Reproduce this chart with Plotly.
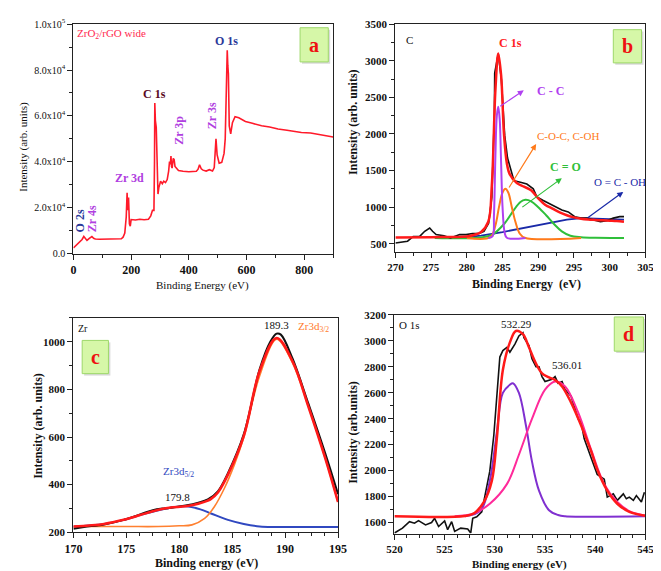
import plotly.graph_objects as go

W, H = 661, 571
SERIF = "Liberation Serif"

# ---------------- Panel a: survey spectrum ----------------
a_be = [0, 10, 20, 30, 36, 42, 47, 55, 64, 70, 76, 90, 110, 130, 150, 166, 172, 178, 183, 186, 188, 191, 194,
        197, 200, 215, 230, 245, 260, 268, 274, 279, 281, 282, 284, 287, 290, 293, 296, 302, 308, 313, 319, 325,
        330, 333, 336, 338, 340, 342, 346, 349, 352, 355, 364, 380, 400, 426, 432, 437, 443, 449, 460, 471, 482,
        488, 494, 498, 505, 514, 522, 526, 528, 531, 533, 535, 537, 540, 545, 551, 560, 573, 596, 620, 652, 680,
        709, 740, 765, 790, 822, 850, 878, 900]
a_int = [2500, 3800, 5000, 6200, 7500, 6600, 5800, 6700, 7500, 6700, 6400, 6300, 6400, 6300, 6400, 6500, 7200, 9000,
         16000, 26500, 19000, 24500, 13000, 12000, 14900, 14700, 15000, 14800, 15000, 16500, 18900, 18900, 40000,
         65600, 58000, 55000, 33000, 26000, 28800, 31600, 30500, 31600, 31000, 32300, 36000, 40100, 39000, 42500,
         38000, 37300, 41500, 41000, 38000, 37600, 36200, 35900, 35700, 35900, 36800, 38700, 37000, 36400, 36000,
         36600, 36000, 37500, 50000, 43000, 39400, 39800, 43700, 50000, 61400, 75000, 88600, 82000, 78400, 55700,
         52200, 57100, 59700, 59200, 57600, 56800, 55700, 55200, 54300, 53800, 53300, 52800, 52600, 51900, 51500,
         50800]
a_xticks = [0, 200, 400, 600, 800]
a_xtext = ["<b>0</b>", "<b>200</b>", "<b>400</b>", "<b>600</b>", "<b>800</b>"]
a_yticks = [0, 20000, 40000, 60000, 80000, 100000]
a_ytext = ["0.0", "2.0x10<sup>4</sup>", "4.0x10<sup>4</sup>", "6.0x10<sup>4</sup>", "8.0x10<sup>4</sup>",
           "1.0x10<sup>5</sup>"]

# ---------------- Panel b: C 1s ----------------
b_raw_x = [270, 271, 271.7, 272.5, 273.4, 274.1, 274.8, 275.2, 275.7, 276.8, 277.7, 279, 279.9, 280.8, 281.7,
           282.4, 283.05, 283.5, 283.86, 283.9, 284.4, 284.84, 285.3, 285.7, 286.2, 286.6, 287.5, 288.4, 289.3,
           289.8, 290.7, 291.5, 292.4, 293.3, 294.2, 295.1, 296, 296.9, 297.8, 298.7, 299.6, 300.5, 301.4, 302]
b_raw_y = [510, 520, 535, 600, 600, 670, 715, 670, 625, 610, 580, 625, 625, 640, 640, 670, 780, 1135, 2290, 2830,
           3095, 2740, 1980, 1670, 1490, 1360, 1340, 1315, 1250, 1140, 1090, 1050, 1000, 960, 935, 870, 850, 850,
           825, 800, 815, 850, 870, 870]
b_fit_x = [270, 275, 280, 281, 282, 283, 283.5, 284, 284.4, 284.8, 285.2, 285.6, 286, 287, 288, 289, 290, 291,
           292, 293, 294, 295, 296, 297, 298, 299, 300, 301, 302]
b_fit_y = [585, 590, 600, 620, 660, 800, 1300, 2600, 3100, 2800, 2000, 1600, 1450, 1330, 1280, 1230, 1120, 1030,
           980, 930, 890, 860, 840, 830, 825, 820, 815, 810, 800]
b_cc_x = [283, 283.6, 283.8, 284.0, 284.2, 284.4, 284.6, 284.8, 285.0, 285.3, 285.6, 288.2]
b_cc_y = [580, 600, 900, 1700, 2250, 2370, 2200, 1600, 1000, 650, 582, 580]
b_coc_x = [280, 283.3, 284.0, 284.5, 285.0, 285.4, 285.8, 286.3, 286.8, 287.4, 288.1, 296]
b_coc_y = [580, 590, 750, 1000, 1200, 1250, 1200, 1000, 800, 640, 582, 580]
b_co_x = [275.5, 282, 283.5, 285.3, 286.5, 287.5, 288.2, 289.0, 290.0, 291.1, 292.2, 293.3, 294.5, 296, 298, 302]
b_co_y = [580, 585, 620, 780, 950, 1070, 1100, 1080, 1000, 890, 770, 670, 610, 590, 582, 580]
b_coh_x = [279, 282, 285, 288, 291, 294, 296, 298, 302]
b_coh_y = [580, 610, 660, 720, 780, 830, 850, 845, 830]
b_xticks = [270, 275, 280, 285, 290, 295, 300, 305]
b_yticks = [500, 1000, 1500, 2000, 2500, 3000, 3500]

# ---------------- Panel c: Zr 3d ----------------
c_raw_x = [170, 171, 172.9, 174.75, 176.3, 177.5, 178.5, 179.05, 180.6, 181.8, 182.7, 183.65, 184.6, 186.1,
           187.6, 188.6, 189.2, 189.6, 190.7, 192.2, 193.8, 195]
c_raw_y = [215, 222, 233, 252, 275, 293, 300, 302, 312, 324, 338, 372, 448, 612, 885, 1000, 1034, 1030, 930, 740,
           530, 360]
c_fit_x = [170, 172.9, 174.75, 176.3, 177.5, 179.05, 180.6, 181.8, 182.7, 183.0, 183.65, 184.6, 186.1, 187.6,
           189.2, 190.7, 192.2, 193.8, 195]
c_fit_y = [224, 235, 252, 272, 288, 303, 309, 320, 333, 340, 367, 442, 605, 878, 1016, 918, 728, 510, 327]
c_d52_x = [170, 172.9, 174.75, 176.3, 177.5, 179.05, 180.6, 182.0, 183.0, 184.6, 186.1, 187.6, 189.2, 195]
c_d52_y = [224, 235, 252, 272, 286, 302, 309, 296, 279, 252, 235, 224, 222, 222]
c_d32_x = [170, 175, 178, 180, 181.2, 182.4, 183.3, 184.3, 185.2, 186.1, 187.6, 189.2, 190.7, 192.2, 193.8, 195]
c_d32_y = [224, 224, 224, 227, 231, 258, 306, 388, 483, 599, 857, 1011, 911, 728, 510, 327]
c_xticks = [170, 175, 180, 185, 190, 195]
c_yticks = [200, 400, 600, 800, 1000]

# ---------------- Panel d: O 1s ----------------
d_raw_x = [520, 520.8, 521.5, 522, 522.4, 523.1, 523.7, 524, 524.4, 525, 525.3, 525.7, 526, 526.6, 527.3, 527.6,
           527.8, 528.2, 528.7, 529, 529.5, 529.9, 530.2, 530.5, 530.8, 531.2, 531.5, 532, 532.4, 532.8, 532.9,
           533.4, 533.7, 534.1, 534.4, 534.7, 535, 535.4, 535.7, 536, 536.3, 536.7, 537, 537.6, 538.3, 538.6,
           538.9, 539.6, 540.2, 540.9, 541.2, 541.8, 542.2, 542.5, 542.8, 543.1, 543.4, 543.8, 544.1, 544.6, 544.9]
d_raw_y = [1520, 1557, 1607, 1595, 1615, 1582, 1600, 1633, 1570, 1612, 1545, 1607, 1532, 1557, 1550, 1520, 1633,
           1645, 1683, 1796, 1996, 2272, 2573, 2874, 2924, 2949, 2912, 2974, 3037, 3062, 3024, 2962, 2862, 2799,
           2799, 2724, 2686, 2698, 2703, 2724, 2673, 2686, 2623, 2573, 2398, 2372, 2247, 2097, 1971, 1934, 1796,
           1821, 1771, 1796, 1821, 1783, 1796, 1771, 1808, 1758, 1833]
d_fit_x = [520, 527, 527.9, 528.9, 529.7, 530.2, 530.8, 531.5, 532.1, 532.8, 533.4, 534.1, 534.7, 535.4, 536,
           536.7, 537.6, 538.6, 539.6, 540.2, 541.2, 542.2, 543.4, 545]
d_fit_y = [1648, 1650, 1670, 1758, 1921, 2247, 2774, 2987, 3075, 3050, 2949, 2824, 2749, 2718, 2698, 2648, 2523,
           2347, 2147, 2009, 1846, 1745, 1683, 1653]
d_p1_x = [527, 528.6, 529.5, 530.2, 530.8, 531.5, 531.8, 532.4, 533.1, 533.7, 534.4, 535.4, 536.3, 537, 545]
d_p1_y = [1648, 1695, 1921, 2297, 2598, 2661, 2673, 2598, 2347, 2071, 1846, 1695, 1658, 1649, 1648]
d_p2_x = [526, 527.9, 529.5, 531.2, 532.4, 533.7, 535, 536, 537, 538.3, 539.6, 540.9, 542.2, 543.4, 545]
d_p2_y = [1648, 1670, 1745, 1896, 2122, 2398, 2623, 2686, 2648, 2448, 2159, 1896, 1758, 1688, 1653]
d_xticks = [520, 525, 530, 535, 540, 545]
d_yticks = [1600, 1800, 2000, 2200, 2400, 2600, 2800, 3000, 3200]


def bold(vals):
    return ["<b>%s</b>" % v for v in vals]


def P(px, py):
    return px / W, 1 - py / H


fig = go.Figure()

# traces
fig.add_trace(go.Scatter(x=a_be, y=a_int, mode="lines", line=dict(color="#ff1a2a", width=1.6),
                         xaxis="x", yaxis="y"))

fig.add_trace(go.Scatter(x=b_coh_x, y=b_coh_y, mode="lines", line=dict(color="#1a2aa8", width=1.8), xaxis="x2", yaxis="y2"))
fig.add_trace(go.Scatter(x=b_co_x, y=b_co_y, mode="lines", line=dict(color="#2fbf3a", width=2, shape="spline"), xaxis="x2", yaxis="y2"))
fig.add_trace(go.Scatter(x=b_coc_x, y=b_coc_y, mode="lines", line=dict(color="#ff7a1a", width=2, shape="spline"), xaxis="x2", yaxis="y2"))
fig.add_trace(go.Scatter(x=b_raw_x, y=b_raw_y, mode="lines", line=dict(color="#111111", width=1.6), xaxis="x2", yaxis="y2"))
fig.add_trace(go.Scatter(x=b_fit_x, y=b_fit_y, mode="lines", line=dict(color="#ff1a1a", width=2.5, shape="spline"), xaxis="x2", yaxis="y2"))
fig.add_trace(go.Scatter(x=b_cc_x, y=b_cc_y, mode="lines", line=dict(color="#b040f0", width=2, shape="spline"), xaxis="x2", yaxis="y2"))

fig.add_trace(go.Scatter(x=c_d52_x, y=c_d52_y, mode="lines", line=dict(color="#3048c0", width=2, shape="spline"), xaxis="x3", yaxis="y3"))
fig.add_trace(go.Scatter(x=c_d32_x, y=c_d32_y, mode="lines", line=dict(color="#ff8030", width=1.6, shape="spline"), xaxis="x3", yaxis="y3"))
fig.add_trace(go.Scatter(x=c_raw_x, y=c_raw_y, mode="lines", line=dict(color="#111111", width=2, shape="spline"), xaxis="x3", yaxis="y3"))
fig.add_trace(go.Scatter(x=c_fit_x, y=c_fit_y, mode="lines", line=dict(color="#ff1a1a", width=2.6, shape="spline"), xaxis="x3", yaxis="y3"))

fig.add_trace(go.Scatter(x=d_raw_x, y=d_raw_y, mode="lines", line=dict(color="#111111", width=1.6), xaxis="x4", yaxis="y4"))
fig.add_trace(go.Scatter(x=d_p1_x, y=d_p1_y, mode="lines", line=dict(color="#8030d0", width=2, shape="spline"), xaxis="x4", yaxis="y4"))
fig.add_trace(go.Scatter(x=d_p2_x, y=d_p2_y, mode="lines", line=dict(color="#ff2a9a", width=2, shape="spline"), xaxis="x4", yaxis="y4"))
fig.add_trace(go.Scatter(x=d_fit_x, y=d_fit_y, mode="lines", line=dict(color="#ff1a1a", width=2.5, shape="spline"), xaxis="x4", yaxis="y4"))


def axis(dom, rng, tickvals, ticktext, minor_dtick, anchor, tsize=12):
    return dict(domain=dom, range=rng, tickvals=tickvals, ticktext=ticktext, anchor=anchor,
                showline=True, linecolor="#222", linewidth=1.2, mirror=True, ticks="outside", ticklen=5,
                tickcolor="#222", showgrid=False, zeroline=False,
                tickfont=dict(family=SERIF, size=tsize, color="#111"),
                minor=dict(ticks="outside", ticklen=3, dtick=minor_dtick, tickcolor="#222"))


ax_a = [58 / W, 325 / W]; ay_a = [1 - 244.3 / H, 1 - 9.3 / H]
ax_b = [389 / W, 646 / W]; ay_b = [1 - 242.7 / H, 1 - 9.3 / H]
ax_c = [58 / W, 330 / W]; ay_c = [1 - 529.3 / H, 1 - 310 / H]
ax_d = [388 / W, 646 / W]; ay_d = [1 - 530.7 / H, 1 - 306.7 / H]

fig.update_layout(
    width=W, height=H, margin=dict(l=0, r=0, t=0, b=0), showlegend=False,
    paper_bgcolor="white", plot_bgcolor="white",
    xaxis=axis(ax_a, [0, 900], a_xticks, a_xtext, 100, "y"),
    yaxis=axis(ay_a, [0, 100000], a_yticks, a_ytext, 10000, "x", 10),
    xaxis2=axis(ax_b, [270, 305], b_xticks, bold(b_xticks), 2.5, "y2", 11),
    yaxis2=axis(ay_b, [385, 3500], b_yticks, bold(b_yticks), 250, "x2", 11),
    xaxis3=axis(ax_c, [170, 195], c_xticks, bold(c_xticks), 1.25, "y3"),
    yaxis3=axis(ay_c, [200, 1100], c_yticks, bold(c_yticks), 100, "x3", 11),
    xaxis4=axis(ax_d, [520, 545], d_xticks, bold(d_xticks), 1.25, "y4", 11),
    yaxis4=axis(ay_d, [1515, 3200], d_yticks, bold(d_yticks), 100, "x4", 11),
)

ann = []


def txt(px, py, text, color="#111", size=12, bold_=False, angle=0, xanchor="center"):
    x, y = P(px, py)
    t = "<b>%s</b>" % text if bold_ else text
    ann.append(dict(x=x, y=y, xref="paper", yref="paper", text=t, showarrow=False, textangle=angle,
                    xanchor=xanchor, yanchor="middle", font=dict(family=SERIF, size=size, color=color)))


# axis titles
txt(7, 135, "Intensity (arb. units)", size=11, angle=-90)
txt(191, 277, "Binding Energy (eV)", size=11)
txt(346, 110, "Intensity (arb. units)", size=12, bold_=True, angle=-90)
txt(524, 275, "Binding Energy  (eV)", size=12, bold_=True)
txt(22, 420, "Intensity (arb. units)", size=12, bold_=True, angle=-90)
txt(195, 561, "Binding energy (eV)", size=12, bold_=True)
txt(346, 427, "Intensity (arb.units)", size=12, bold_=True, angle=-90)
txt(517, 562, "Binding energy (eV)", size=11, bold_=True)

# panel a labels
txt(60, 19, "ZrO<sub>2</sub>/rGO wide", color="#ff2a50", size=11, xanchor="left")
txt(215, 27, "O 1s", color="#2a3a9a", size=12, bold_=True)
txt(141, 81, "C 1s", color="#5a0a1e", size=12, bold_=True)
txt(116, 167, "Zr 3d", color="#b040e0", size=12, bold_=True)
txt(167, 118, "Zr 3p", color="#b040e0", size=12, bold_=True, angle=-90)
txt(200, 103, "Zr 3s", color="#b040e0", size=12, bold_=True, angle=-90)
txt(65, 211, "O 2s", color="#2a3a9a", size=12, bold_=True, angle=-90)
txt(77, 208, "Zr 4s", color="#b040e0", size=12, bold_=True, angle=-90)

# panel b labels
txt(404, 26, "C", size=11, xanchor="center")
txt(507, 29, "C 1s", color="#ff2020", size=12, bold_=True)
txt(533, 78, "C - C", color="#b040f0", size=12, bold_=True, xanchor="left")
txt(566, 124, "C-O-C, C-OH", color="#ff7a1a", size=11, xanchor="center")
txt(564, 156, "C = O", color="#2fbf3a", size=12, bold_=True, xanchor="center")
txt(620, 171, "O = C - OH", color="#1a2aa8", size=11, xanchor="center")

arrows = [(287.97, 2596, -25, 17, "#b040f0"), (289.7, 1862, -28, 45, "#ff7a1a"),
          (293.3, 1395, -41, 30, "#2fbf3a"), (301.9, 1208, -37, 27, "#1a2aa8")]
for x, y, dx, dy, col in arrows:
    ann.append(dict(x=x, y=y, xref="x2", yref="y2", ax=dx, ay=dy, text="", showarrow=True,
                    arrowhead=2, arrowsize=1, arrowwidth=1.2, arrowcolor=col))

# panel c labels
txt(68, 321, "Zr", size=10)
txt(267, 317, "189.3", size=11)
txt(287, 319, "Zr3d<sub>3/2</sub>", color="#ff7a2a", size=11, xanchor="left")
txt(166, 468, "Zr3d<sub>5/2</sub>", color="#3048c0", size=11)
txt(165, 493, "179.8", size=11)

# panel d labels
txt(403, 317, "O 1s", size=11)
txt(513, 316, "532.29", size=11)
txt(565, 358, "536.01", size=11)

# letter boxes
shapes = []
for (x0, y0, x1, y1, letter) in [(291, 13, 320, 48, "a"), (613, 15, 642, 49, "b"),
                                  (67, 333, 94, 367, "c"), (614, 309, 644, 344, "d")]:
    sx0, sy1 = P(x0 + 2, y0 + 2)
    sx1, sy0 = P(x1 + 2, y1 + 2)
    shapes.append(dict(type="rect", xref="paper", yref="paper", x0=sx0, x1=sx1, y0=sy0, y1=sy1,
                       fillcolor="rgba(0,0,0,0.15)", line=dict(width=0)))
    bx0, by1 = P(x0, y0)
    bx1, by0 = P(x1, y1)
    shapes.append(dict(type="rect", xref="paper", yref="paper", x0=bx0, x1=bx1, y0=by0, y1=by1,
                       fillcolor="#d6f7a8", line=dict(color="#9ed86a", width=1)))
    txt((x0 + x1) / 2, (y0 + y1) / 2, letter, color="#ee1111", size=20, bold_=True)

fig.update_layout(annotations=ann, shapes=shapes)
fig.write_html("out.html")
